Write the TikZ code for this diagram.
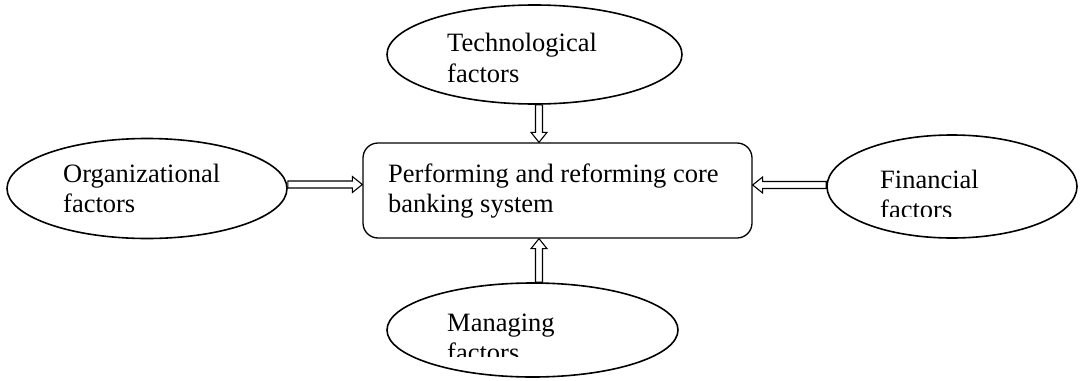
\documentclass[tikz,border=0pt]{standalone}
\usepackage{fontspec}
\setmainfont{Liberation Serif}
\usetikzlibrary{calc,shapes.geometric}
\begin{document}
\begin{tikzpicture}[x=1pt,y=-1pt,
  oval/.style={ellipse, draw, line width=1.6pt, inner sep=0pt},
  lbl/.style={anchor=base west, inner sep=0pt, font=\fontsize{26.5}{30}\selectfont},
  corebox/.style={draw, line width=1.3pt, rounded corners=15pt, inner sep=0pt},
  blockarrow/.style={draw, line width=1.1pt, line join=miter, to path={
    let \p1=(\tikztostart), \p2=(\tikztotarget),
        \n1={veclen(\x2-\x1,\y2-\y1)}, \n2={atan2(\y2-\y1,\x2-\x1)}
    in {[shift={(\p1)}, rotate=\n2]
      (0pt,3.5pt) -- ({\n1-10pt},3.5pt) -- ({\n1-10pt},8pt) -- (\n1,0pt)
      -- ({\n1-10pt},-8pt) -- ({\n1-10pt},-3.5pt) -- (0pt,-3.5pt) -- cycle}}}
]
\useasboundingbox (0,0) rectangle (1083,380);

% ovals
\node[oval, minimum width=295pt, minimum height=99pt] (tech) at (534.5,54.5) {};
\node[oval, minimum width=280pt, minimum height=100pt] (org) at (147,188.5) {};
\node[oval, minimum width=250pt, minimum height=103pt] (fin) at (952,186.5) {};
\node[oval, minimum width=291pt, minimum height=94pt] (man) at (532.5,330) {};

% central box
\node[corebox, minimum width=389pt, minimum height=95pt] (core) at (557.5,190.5) {};

% texts
\node[lbl] (techA) at (447,51) {Technological};
\node[lbl] (techB) at (447,82) {factors};
\node[lbl] (orgA) at (63,182) {Organizational};
\node[lbl] (orgB) at (63,212) {factors};
\node[lbl] (coreA) at (388,182) {Performing and reforming core};
\node[lbl] (coreB) at (388,212) {banking system};
\node[lbl] (finA) at (880,188) {Financial};
\begin{scope}
  \clip (800,120) rectangle (1083,216.5);
  \node[lbl] (finB) at (880,218) {factors};
\end{scope}
\node[lbl] (manA) at (447,331) {Managing};
\begin{scope}
  \clip (380,290) rectangle (700,356.5);
  \node[lbl] (manB) at (447,361) {factors};
\end{scope}

% block arrows
\draw[blockarrow] ([xshift=4.5pt]tech.south) to ([xshift=4.5pt]tech.south |- core.north);
\draw[blockarrow] ([xshift=6.5pt]man.north) to ([xshift=6.5pt]man.north |- core.south);
\draw[blockarrow] ([yshift=4pt]org.east) to ([yshift=4pt]org.east -| core.west);
\draw[blockarrow] ([yshift=1.5pt]fin.west) to ([yshift=1.5pt]fin.west -| core.east);
\end{tikzpicture}
\end{document}
